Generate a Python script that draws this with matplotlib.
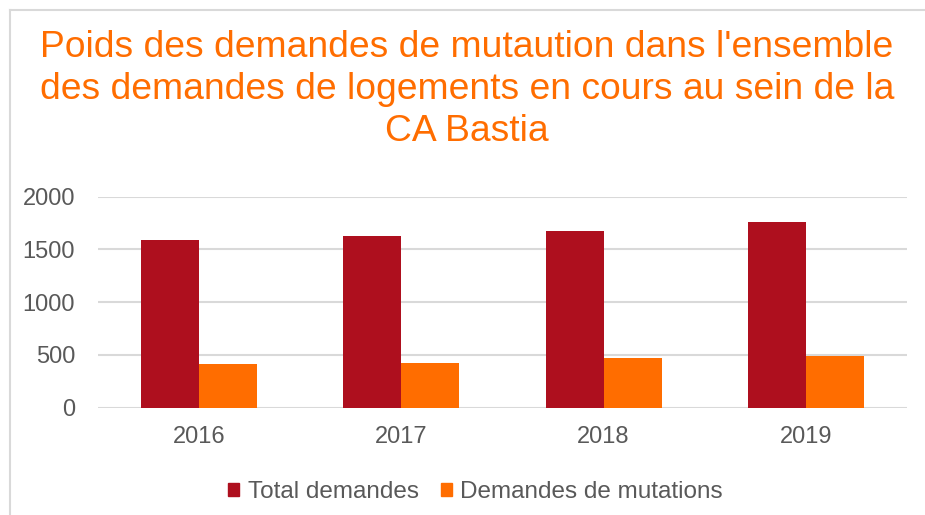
import numpy as np
import matplotlib.pyplot as plt
from matplotlib.lines import Line2D
from matplotlib.patches import Patch

plt.rcParams['font.family'] = ['Liberation Sans', 'DejaVu Sans']

years = ["2016", "2017", "2018", "2019"]
total = [1590, 1627, 1675, 1760]
mutations = [414, 424, 471, 490]

RED, ORANGE, GREY = "#AE0F1E", "#FF6D00", "#595959"

fig = plt.figure(figsize=(9.25, 5.15), dpi=100)
ax = fig.add_axes([0.106, 0.2083, 0.8745, 0.4098])

x = np.arange(len(years))
w = 0.287
ax.bar(x - w / 2, total, w, color=RED, label="Total demandes", zorder=3)
ax.bar(x + w / 2, mutations, w, color=ORANGE, label="Demandes de mutations", zorder=3)

ax.set_xlim(-0.5, len(years) - 0.5)
ax.set_ylim(0, 2000)
ax.set_yticks([0, 500, 1000, 1500, 2000])
ax.set_xticks(x)
ax.set_xticklabels(years)
ax.yaxis.grid(True, color="#D9D9D9", linewidth=1.5, zorder=0)
for s in ax.spines.values():
    s.set_visible(False)
ax.tick_params(axis="both", length=0, labelsize=17, labelcolor=GREY)
ax.tick_params(axis="y", pad=16.5)
ax.tick_params(axis="x", pad=13)

fig.text(0.505, 0.942, "Poids des demandes de mutaution dans l'ensemble\n"
         "des demandes de logements en cours au sein de la\nCA Bastia",
         ha="center", va="top", fontsize=26.8, color=ORANGE, linespacing=1.26)

fig.legend(handles=[Patch(color=RED, label="Total demandes"),
                    Patch(color=ORANGE, label="Demandes de mutations")],
           loc="center", bbox_to_anchor=(0.514, 0.045), ncol=2, frameon=False,
           fontsize=17.5, labelcolor=GREY, handlelength=0.45, handleheight=0.45,
           handletextpad=0.35, columnspacing=0.9)

# chart border (left and top edges visible)
fig.add_artist(Line2D([10 / 925, 10 / 925], [0, 1 - 10 / 515], color="#D9D9D9", lw=1.5))
fig.add_artist(Line2D([10 / 925, 1], [1 - 10 / 515, 1 - 10 / 515], color="#D9D9D9", lw=1.5))

fig.savefig("out.png", dpi=100)
